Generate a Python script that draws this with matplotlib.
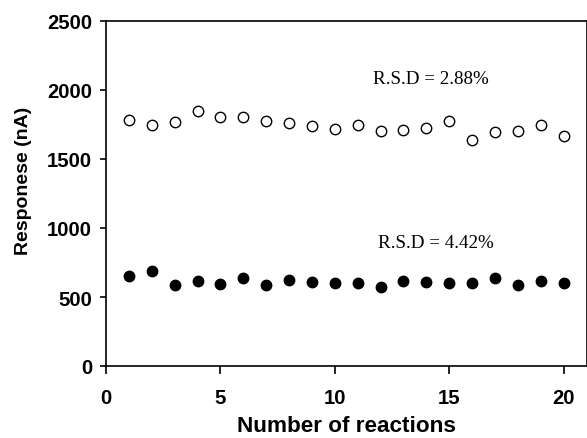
import matplotlib
matplotlib.use("Agg")
import matplotlib.pyplot as plt

reactions = list(range(1, 21))
open_vals = [1783, 1746, 1768, 1848, 1804, 1807, 1773, 1758, 1742, 1720,
             1749, 1703, 1710, 1727, 1773, 1638, 1696, 1700, 1744, 1667]
filled_vals = [649, 688, 589, 613, 594, 638, 584, 625, 606, 601,
               601, 570, 616, 609, 604, 601, 635, 589, 616, 599]
rsd_labels = ["R.S.D = 2.88%", "R.S.D = 4.42%"]
xticks = [0, 5, 10, 15, 20]
yticks = [0, 500, 1000, 1500, 2000, 2500]

fig = plt.figure(figsize=(5.87, 4.39), dpi=100)
ax = fig.add_axes([106/587, 1-367/439, 480.5/587, 345/439])

ax.plot(reactions, open_vals, 'o', markersize=7.5, markerfacecolor='white',
        markeredgecolor='black', markeredgewidth=1.0, linestyle='none')
ax.plot(reactions, filled_vals, 'o', markersize=7.5, color='black', linestyle='none')

ax.set_xlim(0, 21)
ax.set_ylim(0, 2500)
ax.set_xticks(xticks)
ax.set_yticks(yticks)

bold = dict(family='Liberation Sans', weight='bold')
ax.set_xticklabels([str(t) for t in xticks], fontsize=14.6, **bold)
ax.set_yticklabels([str(t) for t in yticks], fontsize=14.6, **bold)
ax.tick_params(axis='x', direction='out', length=5.8, width=1.2, pad=10)
ax.tick_params(axis='y', direction='out', length=4.5, width=1.2, pad=5.5)
for s in ax.spines.values():
    s.set_linewidth(1.2)

ax.set_xlabel("Number of reactions", fontsize=16.2, labelpad=6, **bold)
ax.set_ylabel("Responese (nA)", fontsize=14, **bold)
ax.yaxis.set_label_coords(-0.155, 0.54)

ax.text(14.2, 2080, rsd_labels[0], family='Liberation Serif', fontsize=13.7,
        ha='center', va='center')
ax.text(14.4, 898, rsd_labels[1], family='Liberation Serif', fontsize=13.7,
        ha='center', va='center')

fig.savefig("out.png", dpi=100)
